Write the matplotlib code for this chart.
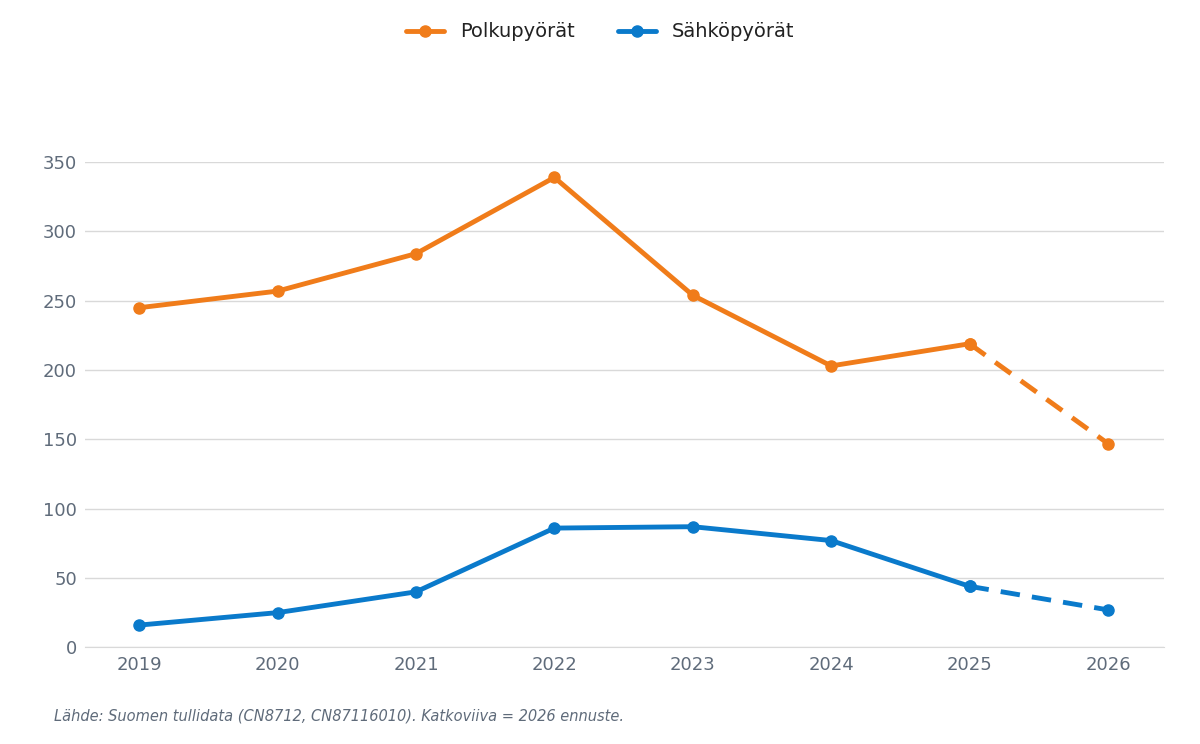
import matplotlib
matplotlib.use("Agg")
import matplotlib.pyplot as plt

years = [2019, 2020, 2021, 2022, 2023, 2024, 2025, 2026]
polku = [245, 257, 284, 339, 254, 203, 219, 147]
sahko = [16, 25, 40, 86, 87, 77, 44, 27]
c_or, c_bl = "#f07c1a", "#0a7acb"

fig = plt.figure(figsize=(12, 7.44), dpi=100)
ax = fig.add_axes([0.071, 0.130, 0.899, 0.652])
for vals, c, lab in [(polku, c_or, "Polkupyörät"), (sahko, c_bl, "Sähköpyörät")]:
    ax.plot(years[:7], vals[:7], color=c, lw=3.5, marker="o", ms=8, label=lab, solid_capstyle="round")
    ax.plot(years[6:], vals[6:], color=c, lw=3.5, ls=(0, (4, 2.5)), marker="o", ms=8)
ax.set_xlim(2019 - 0.39, 2026 + 0.405)
ax.set_ylim(0, 350)
ax.set_yticks(range(0, 351, 50))
ax.set_xticks(years)
ax.grid(axis="y", color="#d9d9d9", lw=1)
ax.set_axisbelow(True)
for s in ["top", "right", "left"]:
    ax.spines[s].set_visible(False)
ax.spines["bottom"].set_color("#d9d9d9")
ax.tick_params(length=0, labelsize=13, colors="#5f6b7a", pad=6)
fig.legend(loc="center", bbox_to_anchor=(0.5, 0.957), ncol=2, frameon=False, fontsize=14,
           handlelength=2, columnspacing=2.2, labelcolor="#222222")
fig.text(0.045, 0.031, "Lähde: Suomen tullidata (CN8712, CN87116010). Katkoviiva = 2026 ennuste.",
         fontsize=10.5, style="italic", color="#5f6b7a")
fig.savefig("out.png")
